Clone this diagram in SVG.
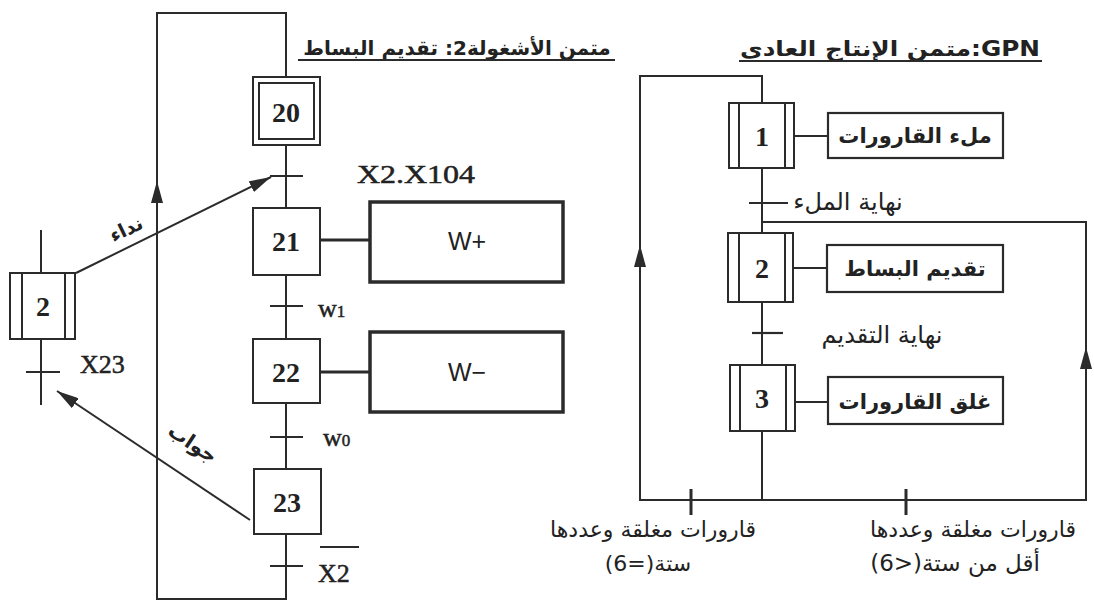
<svg xmlns="http://www.w3.org/2000/svg" width="1094" height="602" viewBox="0 0 1094 602">
<style>
  .ln{fill:none;stroke:#2b2b2b;stroke-width:2}
  .tk{fill:none;stroke:#2b2b2b;stroke-width:2.2}
  .bt{fill:none;stroke:#2b2b2b;stroke-width:3}
  .box{fill:#fff;stroke:#2b2b2b;stroke-width:2}
  .act{fill:#fff;stroke:#2b2b2b;stroke-width:3.5}
  .ract{fill:#fff;stroke:#2b2b2b;stroke-width:2.2}
  .num{font-family:"Liberation Serif",serif;font-weight:bold;font-size:28px;fill:#222;text-anchor:middle;dominant-baseline:central}
  .lbl{font-family:"Liberation Serif",serif;font-size:26px;fill:#222;stroke:#222;stroke-width:0.5}
  .ar{font-family:"DejaVu Sans","Noto Sans",sans-serif;fill:#222}
  .arb{font-family:"DejaVu Sans","Noto Sans",sans-serif;font-weight:bold;fill:#222}
</style>
<defs>
  <marker id="ah" markerUnits="userSpaceOnUse" markerWidth="22" markerHeight="12" refX="22" refY="6" orient="auto">
    <path d="M0,0 L22,6 L0,12 z" fill="#2b2b2b"/>
  </marker>
</defs>

<!-- Titles -->
<g id="title-left">
  <text class="arb" x="457" y="55" font-size="20" text-anchor="middle" direction="rtl">متمن الأشغولة2: تقديم البساط</text>
  <line class="ln" x1="298" y1="60" x2="615" y2="60"/>
</g>
<g id="title-right">
  <text class="arb" x="740" y="56" font-size="21" textLength="300" lengthAdjust="spacingAndGlyphs">&#x200E;متمن الإنتاج العادي:GPN</text>
  <line class="ln" x1="739" y1="61" x2="1042" y2="61"/>
</g>

<!-- Connectors -->
<g id="connectors">
  <!-- left grafcet loop and links -->
  <path class="ln" d="M286,77 V13 H157 V599 H286 V534"/>
  <line class="ln" x1="157" y1="205" x2="157" y2="181" marker-end="url(#ah)"/>
  <line class="ln" x1="286" y1="145" x2="286" y2="208"/>
  <line class="ln" x1="286" y1="275" x2="286" y2="339"/>
  <line class="ln" x1="286" y1="403" x2="286" y2="469"/>
  <line class="tk" x1="270" y1="176" x2="303" y2="176"/>
  <line class="tk" x1="270" y1="306" x2="303" y2="306"/>
  <line class="tk" x1="270" y1="437" x2="303" y2="437"/>
  <line class="tk" x1="270" y1="566" x2="303" y2="566"/>
  <line class="bt" x1="320" y1="240" x2="370" y2="240"/>
  <line class="bt" x1="320" y1="372" x2="370" y2="372"/>
  <!-- step 2 (task) links -->
  <line class="ln" x1="41" y1="230" x2="41" y2="273"/>
  <line class="ln" x1="41" y1="339" x2="41" y2="405"/>
  <line class="tk" x1="26" y1="372" x2="60" y2="372"/>
  <!-- call / answer arrows -->
  <line class="ln" x1="76" y1="273" x2="271" y2="177" marker-end="url(#ah)"/>
  <line class="ln" x1="250" y1="520" x2="57" y2="391" marker-end="url(#ah)"/>
  <text class="arb" font-size="19" text-anchor="middle" transform="translate(129,235) rotate(-25.7)">نداء</text>
  <text class="arb" font-size="20" text-anchor="middle" transform="translate(189,449) rotate(33.8)">جواب</text>

  <!-- right grafcet -->
  <path class="ln" d="M762,103 V76 H640 V500 H1086 V222 H762"/>
  <line class="ln" x1="640" y1="265" x2="640" y2="245" marker-end="url(#ah)"/>
  <line class="ln" x1="1086" y1="367" x2="1086" y2="347" marker-end="url(#ah)"/>
  <line class="ln" x1="762" y1="168" x2="762" y2="233"/>
  <line class="ln" x1="762" y1="302" x2="762" y2="365"/>
  <line class="ln" x1="762" y1="431" x2="762" y2="500"/>
  <line class="tk" x1="749" y1="203" x2="788" y2="203"/>
  <line class="tk" x1="752" y1="333" x2="783" y2="333"/>
  <line class="bt" x1="691" y1="489" x2="691" y2="515"/>
  <line class="bt" x1="906" y1="489" x2="906" y2="515"/>
  <line class="ln" x1="794" y1="136" x2="828" y2="136"/>
  <line class="ln" x1="793" y1="268" x2="827" y2="268"/>
  <line class="ln" x1="795" y1="402" x2="828" y2="402"/>
</g>

<!-- Transition labels -->
<g id="transition-labels">
  <text class="lbl" x="357" y="183" font-size="27" textLength="118" lengthAdjust="spacingAndGlyphs">X2.X104</text>
  <text class="lbl" x="318" y="317" font-size="28">w<tspan font-size="17">1</tspan></text>
  <text class="lbl" x="323" y="446" font-size="28">w<tspan font-size="17">0</tspan></text>
  <text class="lbl" x="318" y="582" font-size="28">X2</text>
  <line class="ln" x1="320" y1="547" x2="359" y2="547"/>
  <text class="lbl" x="80" y="373">X23</text>
  <text class="ar" x="848" y="210" font-size="24" text-anchor="middle">نهاية الملء</text>
  <text class="ar" x="882" y="343" font-size="24" text-anchor="middle">نهاية التقديم</text>
  <text class="ar" x="653" y="537" font-size="22" text-anchor="middle" direction="rtl">قارورات مغلقة وعددها</text>
  <text class="ar" x="648" y="571" font-size="22" text-anchor="middle" direction="rtl">ستة(=6)</text>
  <text class="ar" x="973" y="537" font-size="22" text-anchor="middle" direction="rtl">قارورات مغلقة وعددها</text>
  <text class="ar" x="955" y="571" font-size="23" text-anchor="middle" direction="rtl">أقل من ستة(&lt;6)</text>
</g>

<!-- Left grafcet steps -->
<g id="step-20">
  <rect class="box" x="253" y="77" width="67" height="68"/>
  <rect class="box" x="259" y="83" width="55" height="56"/>
  <text class="num" x="286" y="112">20</text>
</g>
<g id="step-21">
  <rect class="box" x="253" y="208" width="67" height="67"/>
  <text class="num" x="286" y="241">21</text>
</g>
<g id="action-w-plus">
  <rect class="act" x="370" y="202" width="193" height="80"/>
  <text x="467" y="241" font-family="Liberation Sans, sans-serif" font-size="25" fill="#222" text-anchor="middle" dominant-baseline="central">W+</text>
</g>
<g id="step-22">
  <rect class="box" x="253" y="339" width="67" height="64"/>
  <text class="num" x="286" y="372">22</text>
</g>
<g id="action-w-minus">
  <rect class="act" x="370" y="332" width="193" height="80"/>
  <text x="467" y="372" font-family="Liberation Sans, sans-serif" font-size="25" fill="#222" text-anchor="middle" dominant-baseline="central">W−</text>
</g>
<g id="step-23">
  <rect class="box" x="254" y="469" width="67" height="65"/>
  <text class="num" x="287" y="502">23</text>
</g>
<g id="task-step-2">
  <rect class="box" x="10" y="273" width="65" height="66"/>
  <line class="ln" x1="22" y1="273" x2="22" y2="339"/>
  <line class="ln" x1="65" y1="273" x2="65" y2="339"/>
  <text class="num" x="43" y="306" font-size="30">2</text>
</g>

<!-- Right grafcet steps -->
<g id="gpn-step-1">
  <rect class="box" x="729" y="103" width="65" height="65"/>
  <line class="ln" x1="739" y1="103" x2="739" y2="168"/>
  <line class="ln" x1="785" y1="103" x2="785" y2="168"/>
  <text class="num" x="762" y="136">1</text>
</g>
<g id="gpn-action-1">
  <rect class="ract" x="828" y="113" width="175" height="45"/>
  <text class="arb" x="915" y="143" font-size="21" text-anchor="middle">ملء القارورات</text>
</g>
<g id="gpn-step-2">
  <rect class="box" x="728" y="233" width="65" height="69"/>
  <line class="ln" x1="739" y1="233" x2="739" y2="302"/>
  <line class="ln" x1="785" y1="233" x2="785" y2="302"/>
  <text class="num" x="762" y="268">2</text>
</g>
<g id="gpn-action-2">
  <rect class="ract" x="827" y="245" width="176" height="47"/>
  <text class="arb" x="915" y="276" font-size="21" text-anchor="middle">تقديم البساط</text>
</g>
<g id="gpn-step-3">
  <rect class="box" x="730" y="365" width="65" height="66"/>
  <line class="ln" x1="740" y1="365" x2="740" y2="431"/>
  <line class="ln" x1="786" y1="365" x2="786" y2="431"/>
  <text class="num" x="762" y="398">3</text>
</g>
<g id="gpn-action-3">
  <rect class="ract" x="828" y="377" width="175" height="47"/>
  <text class="arb" x="915" y="409" font-size="21" text-anchor="middle">غلق القارورات</text>
</g>
</svg>
